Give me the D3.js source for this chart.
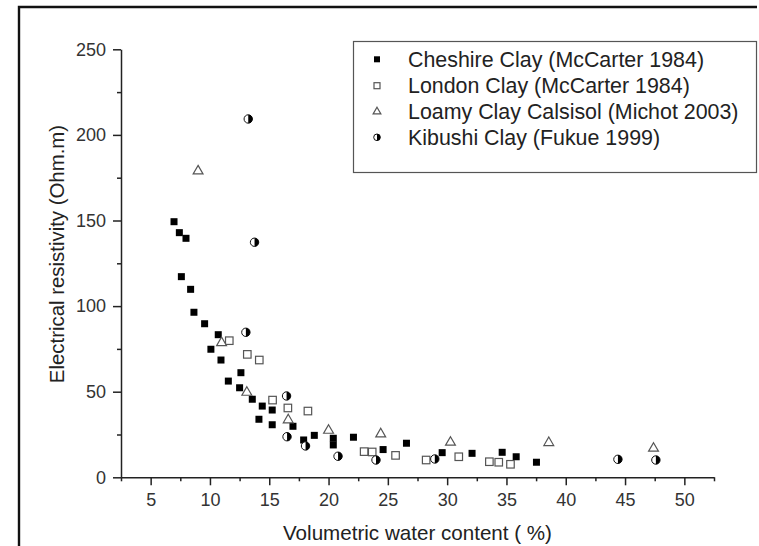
<!DOCTYPE html>
<html>
<head>
<meta charset="utf-8">
<script src="https://cdn.jsdelivr.net/npm/d3@7"></script>
<style>
  body { margin: 0; background: #fff; }
  svg { display: block; font-family: Arial, "Liberation Sans", sans-serif; }
</style>
</head>
<body>
<svg width="759" height="546"></svg>
<script>
// Data
const seriesNames = [
  "Cheshire Clay (McCarter 1984)",
  "London Clay (McCarter 1984)",
  "Loamy Clay Calsisol (Michot 2003)",
  "Kibushi Clay (Fukue 1999)"
];

const cheshireX = [6.97, 7.42, 7.98, 7.59, 8.37, 8.65, 9.55, 10.70, 10.08, 10.93, 12.61, 11.55, 12.50, 13.57, 14.41, 15.25, 14.13, 15.25, 17.0, 17.9, 18.8, 20.4, 20.4, 22.1, 24.6, 26.57, 29.58, 32.1, 34.64, 35.82, 37.53];
const cheshireY = [149.3, 142.9, 139.6, 117.2, 109.8, 96.4, 89.7, 83.3, 74.8, 68.5, 61.1, 56.2, 52.3, 45.6, 41.6, 39.3, 33.9, 30.7, 29.8, 21.8, 24.5, 22.8, 18.9, 23.4, 16.2, 19.9, 14.4, 14.0, 14.6, 12.0, 8.8];

const londonX = [11.63, 13.15, 14.16, 15.28, 16.57, 18.26, 23.0, 23.68, 25.65, 28.23, 30.98, 33.56, 34.35, 35.34];
const londonY = [79.8, 71.8, 68.5, 45.1, 40.5, 38.7, 15.0, 14.8, 12.8, 10.1, 12.0, 9.1, 8.8, 7.6];

const loamyX = [9.0, 10.98, 13.11, 16.6, 20.0, 24.4, 30.28, 38.57, 47.4];
const loamyY = [178.9, 78.6, 49.6, 33.5, 27.4, 25.3, 20.4, 20.2, 16.9];

const kibushiX = [13.23, 13.76, 13.03, 16.46, 16.5, 18.06, 20.8, 24.0, 28.96, 44.4, 47.6];
const kibushiY = [209.3, 137.3, 84.7, 47.5, 23.7, 18.3, 12.3, 10.1, 10.7, 10.5, 10.1];

const xMajor = [5, 10, 15, 20, 25, 30, 35, 40, 45, 50];
const xMinor = [2.5, 7.5, 12.5, 17.5, 22.5, 27.5, 32.5, 37.5, 42.5, 47.5, 52.5];
const yMajor = [0, 50, 100, 150, 200, 250];
const yMinor = [25, 75, 125, 175, 225];

const svg = d3.select("svg");

svg.append("rect").attr("width", 759).attr("height", 546).attr("fill", "#fff");

// outer figure frame (left and top only)
svg.append("path")
  .attr("d", "M19,546V7H757")
  .attr("fill", "none")
  .attr("stroke", "#111")
  .attr("stroke-width", 2.4);

// scales
const x = d3.scaleLinear().domain([2.5, 52.5]).range([121, 714]);
const y = d3.scaleLinear().domain([0, 250]).range([477.3, 49.3]);

// x axis: major + minor ticks
const xAxis = svg.append("g")
  .attr("transform", "translate(0,477.3)")
  .call(d3.axisBottom(x).tickValues(xMajor).tickSize(8).tickPadding(8).tickSizeOuter(0));
svg.append("g")
  .attr("transform", "translate(0,477.3)")
  .call(d3.axisBottom(x).tickValues(xMinor).tickSize(4).tickFormat("").tickSizeOuter(0))
  .select(".domain").remove();

// y axis
const yAxis = svg.append("g")
  .attr("transform", "translate(121,0)")
  .call(d3.axisLeft(y).tickValues(yMajor).tickSize(8).tickPadding(7).tickSizeOuter(0));
svg.append("g")
  .attr("transform", "translate(121,0)")
  .call(d3.axisLeft(y).tickValues(yMinor).tickSize(4).tickFormat("").tickSizeOuter(0))
  .select(".domain").remove();

svg.selectAll(".domain, .tick line")
  .attr("stroke", "#222")
  .attr("stroke-width", 1.5);
svg.selectAll(".tick text")
  .attr("fill", "#333")
  .style("font-size", "18px")
  .style("font-family", "Arial, 'Liberation Sans', sans-serif");

// axis titles
svg.append("text")
  .attr("x", 417.5)
  .attr("y", 540)
  .attr("text-anchor", "middle")
  .attr("fill", "#222")
  .style("font-size", "20.6px")
  .text("Volumetric water content ( %)");

svg.append("text")
  .attr("transform", "translate(64,254) rotate(-90)")
  .attr("text-anchor", "middle")
  .attr("fill", "#222")
  .style("font-size", "20.4px")
  .text("Electrical resistivity (Ohm.m)");

// marker drawing helpers
function drawFilledSquare(g, s) {
  g.append("rect").attr("x", -s / 2).attr("y", -s / 2).attr("width", s).attr("height", s)
    .attr("fill", "#000");
}
function drawOpenSquare(g, s) {
  g.append("rect").attr("x", -s / 2).attr("y", -s / 2).attr("width", s).attr("height", s)
    .attr("fill", "#fff").attr("stroke", "#555").attr("stroke-width", 1.2);
}
function drawTriangle(g, s) {
  g.append("path").attr("d", d3.symbol(d3.symbolTriangle, s)())
    .attr("fill", "#fff").attr("stroke", "#555").attr("stroke-width", 1.2);
}
function drawHalfCircle(g, r) {
  g.append("circle").attr("r", r).attr("fill", "#fff").attr("stroke", "#111").attr("stroke-width", 1);
  g.append("path")
    .attr("d", `M0,${-r}A${r},${r} 0 0 1 0,${r}Z`)
    .attr("fill", "#000");
}

function plotSeries(xs, ys, drawFn, size) {
  const g = svg.append("g");
  g.selectAll("g")
    .data(xs.map((v, i) => [v, ys[i]]))
    .enter()
    .append("g")
    .attr("transform", d => `translate(${x(d[0])},${y(d[1])})`)
    .each(function() { drawFn(d3.select(this), size); });
}

plotSeries(cheshireX, cheshireY, drawFilledSquare, 7);
plotSeries(londonX, londonY, drawOpenSquare, 7.5);
plotSeries(loamyX, loamyY, drawTriangle, 42);
plotSeries(kibushiX, kibushiY, drawHalfCircle, 4.2);

// legend
svg.append("rect")
  .attr("x", 353.5).attr("y", 41.5)
  .attr("width", 403).attr("height", 131)
  .attr("fill", "#fff")
  .attr("stroke", "#555")
  .attr("stroke-width", 1.2);

const legendRows = [59.3, 85.7, 111.7, 137.3];
const legendDraw = [
  g => drawFilledSquare(g, 6),
  g => drawOpenSquare(g, 6),
  g => drawTriangle(g, 26),
  g => drawHalfCircle(g, 3.3)
];
seriesNames.forEach((name, i) => {
  const g = svg.append("g").attr("transform", `translate(377,${legendRows[i]})`);
  legendDraw[i](g);
  svg.append("text")
    .attr("x", 408)
    .attr("y", legendRows[i])
    .attr("dy", "0.36em")
    .attr("fill", "#222")
    .style("font-size", "21.4px")
    .text(name);
});
</script>
</body>
</html>
